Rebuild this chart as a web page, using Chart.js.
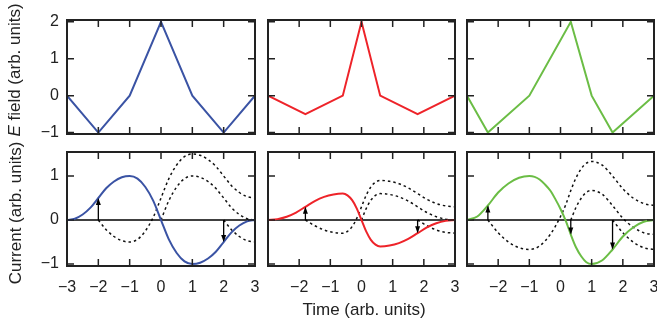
<!DOCTYPE html>
<html>
<head>
<meta charset="utf-8">
<script src="https://cdn.jsdelivr.net/npm/chart.js@4"></script>
<style>
html, body { margin: 0; padding: 0; background: #fff; overflow: hidden; }
body { width: 657px; height: 328px; position: relative; font-family: "Liberation Sans", Arial, sans-serif; }
.box { position: absolute; }
.lbl { position: absolute; white-space: nowrap; font-size: 17px; color: #222; transform: translate(-50%, -50%); }
.rot { transform: translate(-50%, -50%) rotate(-90deg); }
</style>
</head>
<body>
<div class="box" id="b1"><canvas id="c1"></canvas></div>
<div class="box" id="b2"><canvas id="c2"></canvas></div>
<div class="box" id="b3"><canvas id="c3"></canvas></div>
<div class="box" id="b4"><canvas id="c4"></canvas></div>
<div class="box" id="b5"><canvas id="c5"></canvas></div>
<div class="box" id="b6"><canvas id="c6"></canvas></div>
<div class="lbl rot" style="left:15px;top:70px"><i>E</i> field (arb. units)</div>
<div class="lbl rot" style="left:16px;top:213px">Current (arb. units)</div>
<div class="lbl" style="left:364px;top:310px">Time (arb. units)</div>
<script>
// E field, top row
const eX1 = [-3, -2, -1, 0, 1, 2, 3];
const eY1 = [0, -1, 0, 2, 0, -1, 0];
const eX2 = [-3, -1.8, -0.6, 0, 0.6, 1.8, 3];
const eY2 = [0, -0.5, 0, 2, 0, -0.5, 0];
const eX3 = [-3, -2.33, -1, 0.33, 1, 1.67, 3];
const eY3 = [0, -1, 0, 2, 0, -1, 0];

// current, bottom row
const jX1 = [-3, -2.75, -2.5, -2.25, -2, -1.75, -1.5, -1.25, -1, -0.75, -0.5, -0.25, 0, 0.25, 0.5, 0.75, 1, 1.25, 1.5, 1.75, 2, 2.25, 2.5, 2.75, 3];
const jY1 = [0, 0.03, 0.125, 0.28, 0.5, 0.72, 0.875, 0.97, 1, 0.94, 0.75, 0.44, 0, -0.44, -0.75, -0.94, -1, -0.97, -0.875, -0.72, -0.5, -0.28, -0.125, -0.03, 0];
const dA1 = [0, -0.22, -0.375, -0.47, -0.5, -0.44, -0.25, 0.06, 0.5, 0.94, 1.25, 1.44, 1.5, 1.47, 1.375, 1.22, 1, 0.78, 0.625, 0.53, 0.5];
const dB1 = [0, 0.44, 0.75, 0.94, 1, 0.97, 0.875, 0.72, 0.5, 0.28, 0.125, 0.03, 0];
const dC1 = [0, -0.22, -0.375, -0.47, -0.5];
const arrX1 = [-2, 2];
const arrY1 = [0.5, -0.5];

const jX2 = [-3, -2.7, -2.4, -2.1, -1.8, -1.5, -1.2, -0.9, -0.6, -0.45, -0.3, -0.15, 0, 0.15, 0.3, 0.45, 0.6, 0.9, 1.2, 1.5, 1.8, 2.1, 2.4, 2.7, 3];
const jY2 = [0, 0.02, 0.075, 0.17, 0.3, 0.43, 0.525, 0.58, 0.6, 0.56, 0.45, 0.26, 0, -0.26, -0.45, -0.56, -0.6, -0.58, -0.525, -0.43, -0.3, -0.17, -0.075, -0.02, 0];
const dA2 = [0, -0.13, -0.225, -0.28, -0.3, -0.26, -0.15, 0.04, 0.3, 0.56, 0.75, 0.86, 0.9, 0.88, 0.825, 0.73, 0.6, 0.47, 0.375, 0.32, 0.3];
const dB2 = [0, 0.26, 0.45, 0.56, 0.6, 0.58, 0.525, 0.43, 0.3, 0.17, 0.075, 0.02, 0];
const dC2 = [0, -0.13, -0.225, -0.28, -0.3];
const arrX2 = [-1.8, 1.8];
const arrY2 = [0.3, -0.3];

const jX3 = [-3, -2.67, -2.33, -2, -1.67, -1.33, -1, -0.83, -0.67, -0.5, -0.33, -0.17, 0, 0.17, 0.33, 0.5, 0.67, 0.83, 1, 1.33, 1.67, 2, 2.33, 2.67, 3];
const jY3 = [0, 0.08, 0.33, 0.625, 0.83, 0.96, 1, 0.98, 0.92, 0.81, 0.67, 0.48, 0.25, -0.02, -0.33, -0.625, -0.83, -0.96, -1, -0.92, -0.67, -0.375, -0.17, -0.04, 0];
const dA3 = [0, -0.29, -0.5, -0.63, -0.67, -0.65, -0.59, -0.48, -0.33, -0.15, 0.08, 0.35, 0.67, 0.96, 1.17, 1.29, 1.33, 1.25, 1, 0.71, 0.5, 0.375, 0.33];
const dB3 = [0, 0.29, 0.5, 0.63, 0.67, 0.59, 0.33, 0.04, -0.16, -0.29, -0.33];
const dC3 = [0, -0.29, -0.5, -0.63, -0.67];
const arrX3 = [-2.33, 0.33, 1.67];
const arrY3 = [0.33, -0.33, -0.67];

const zeroX = [-3, 3];

const BLUE = '#3a53a4', RED = '#ee2329', GREEN = '#6bbd45';
Chart.defaults.font.family = '"Liberation Sans", Arial, sans-serif';

function pts(xs, ys, from = 0) {
  return ys.map((y, i) => ({ x: xs[from + i], y }));
}

const frame = {
  id: 'frame',
  afterDatasetsDraw(chart) {
    const { ctx, chartArea: a, scales: { x, y } } = chart;
    ctx.save();
    ctx.strokeStyle = '#222';
    ctx.lineWidth = 1.5;
    ctx.beginPath();
    x.ticks.forEach(t => {
      const px = x.getPixelForValue(t.value);
      ctx.moveTo(px, a.top); ctx.lineTo(px, a.top + 7);
      ctx.moveTo(px, a.bottom); ctx.lineTo(px, a.bottom - 7);
    });
    y.ticks.forEach(t => {
      const py = y.getPixelForValue(t.value);
      ctx.moveTo(a.left, py); ctx.lineTo(a.left + 7, py);
      ctx.moveTo(a.right, py); ctx.lineTo(a.right - 7, py);
    });
    ctx.stroke();
    ctx.lineWidth = 2;
    ctx.strokeRect(a.left, a.top, a.width, a.height);
    // arrow heads at the curve end of each arrow
    ctx.fillStyle = '#000';
    chart.data.datasets.forEach((ds, i) => {
      if (!ds.arrow) return;
      const p = chart.getDatasetMeta(i).data[1];
      const dir = ds.data[1].y > 0 ? 1 : -1;
      ctx.beginPath();
      ctx.moveTo(p.x, p.y);
      ctx.lineTo(p.x - 2.5, p.y + dir * 7);
      ctx.lineTo(p.x + 2.5, p.y + dir * 7);
      ctx.closePath();
      ctx.fill();
    });
    ctx.restore();
  }
};

function fmt(hideFirst) {
  return v => (hideFirst && v === -3) ? '' : String(v).replace('-', '\u2212');
}

function onlyInts(s) {
  s.ticks = s.ticks.filter(t => Math.abs(t.value - Math.round(t.value)) < 1e-9);
}

function panel(id, box, datasets, o) {
  const el = document.getElementById('b' + id);
  Object.assign(el.style, { left: box[0] + 'px', top: box[1] + 'px', width: box[2] + 'px', height: box[3] + 'px' });
  new Chart(document.getElementById('c' + id), {
    type: 'line',
    data: { datasets },
    plugins: [frame],
    options: {
      responsive: true, maintainAspectRatio: false, animation: false, events: [],
      layout: { padding: o.pad },
      plugins: { legend: { display: false }, tooltip: { enabled: false } },
      elements: { point: { radius: 0 } },
      scales: {
        x: {
          type: 'linear', min: -3, max: 3,
          grid: { display: false, drawTicks: false }, border: { display: false },
          afterBuildTicks: onlyInts,
          afterFit: s => { s.height = o.xh; },
          ticks: { display: o.showX, stepSize: 1, includeBounds: false, autoSkip: false, maxRotation: 0,
            padding: 12, color: '#222', font: { size: 16 }, callback: fmt(o.hideFirst) }
        },
        y: {
          type: 'linear', min: o.yMin, max: o.yMax,
          grid: { display: false, drawTicks: false }, border: { display: false },
          afterBuildTicks: onlyInts,
          afterFit: s => { s.width = o.yw; },
          ticks: { display: o.showY, stepSize: 1, includeBounds: false, padding: 8, color: '#222',
            font: { size: 16 }, callback: fmt(false) }
        }
      }
    }
  });
}

function eLine(xs, ys, color) {
  return [{ data: pts(xs, ys), borderColor: color, borderWidth: 2, tension: 0 }];
}

function jLines(xs, ys, color, dA, dB, dC, ax, ay) {
  const iA = xs.indexOf(ax[0]);
  const iB = xs.length - dB.length;
  const iC = xs.length - dC.length;
  const sets = [{ data: pts(xs, ys), borderColor: color, borderWidth: 2, cubicInterpolationMode: 'monotone' }];
  ax.forEach((t, i) => sets.push({
    arrow: true, data: [{ x: t, y: 0 }, { x: t, y: ay[i] }], borderColor: '#000', borderWidth: 1.3
  }));
  sets.push({ data: pts(zeroX, [0, 0]), borderColor: '#000', borderWidth: 1.3 });
  const dot = { borderColor: '#111', borderWidth: 1.5, borderDash: [2.5, 3], cubicInterpolationMode: 'monotone' };
  sets.push(Object.assign({ data: pts(xs, dA, iA) }, dot));
  sets.push(Object.assign({ data: pts(xs, dB, iB) }, dot));
  sets.push(Object.assign({ data: pts(xs, dC, iC) }, dot));
  return sets;
}

const topRow = { yMin: -1.04, yMax: 2.05, xh: 0, showX: false };
const botRow = { yMin: -1.045, yMax: 1.545, xh: 40, showX: true };

// top row: chart areas 67-255, 268-455, 467-654 by 20-134
panel(1, [0, 0, 272, 152], eLine(eX1, eY1, BLUE),
  Object.assign({ pad: { left: 0, right: 17, top: 20, bottom: 18 }, yw: 67, showY: true }, topRow));
panel(2, [255, 0, 217, 152], eLine(eX2, eY2, RED),
  Object.assign({ pad: { left: 13, right: 17, top: 20, bottom: 18 }, yw: 0, showY: false }, topRow));
panel(3, [453, 0, 218, 152], eLine(eX3, eY3, GREEN),
  Object.assign({ pad: { left: 14, right: 17, top: 20, bottom: 18 }, yw: 0, showY: false }, topRow));

// bottom row: same columns, 152-266
panel(4, [0, 132, 272, 196], jLines(jX1, jY1, BLUE, dA1, dB1, dC1, arrX1, arrY1),
  Object.assign({ pad: { left: 0, right: 17, top: 20, bottom: 22 }, yw: 67, showY: true, hideFirst: false }, botRow));
panel(5, [255, 132, 217, 196], jLines(jX2, jY2, RED, dA2, dB2, dC2, arrX2, arrY2),
  Object.assign({ pad: { left: 13, right: 17, top: 20, bottom: 22 }, yw: 0, showY: false, hideFirst: true }, botRow));
panel(6, [453, 132, 218, 196], jLines(jX3, jY3, GREEN, dA3, dB3, dC3, arrX3, arrY3),
  Object.assign({ pad: { left: 14, right: 17, top: 20, bottom: 22 }, yw: 0, showY: false, hideFirst: true }, botRow));
</script>
</body>
</html>
